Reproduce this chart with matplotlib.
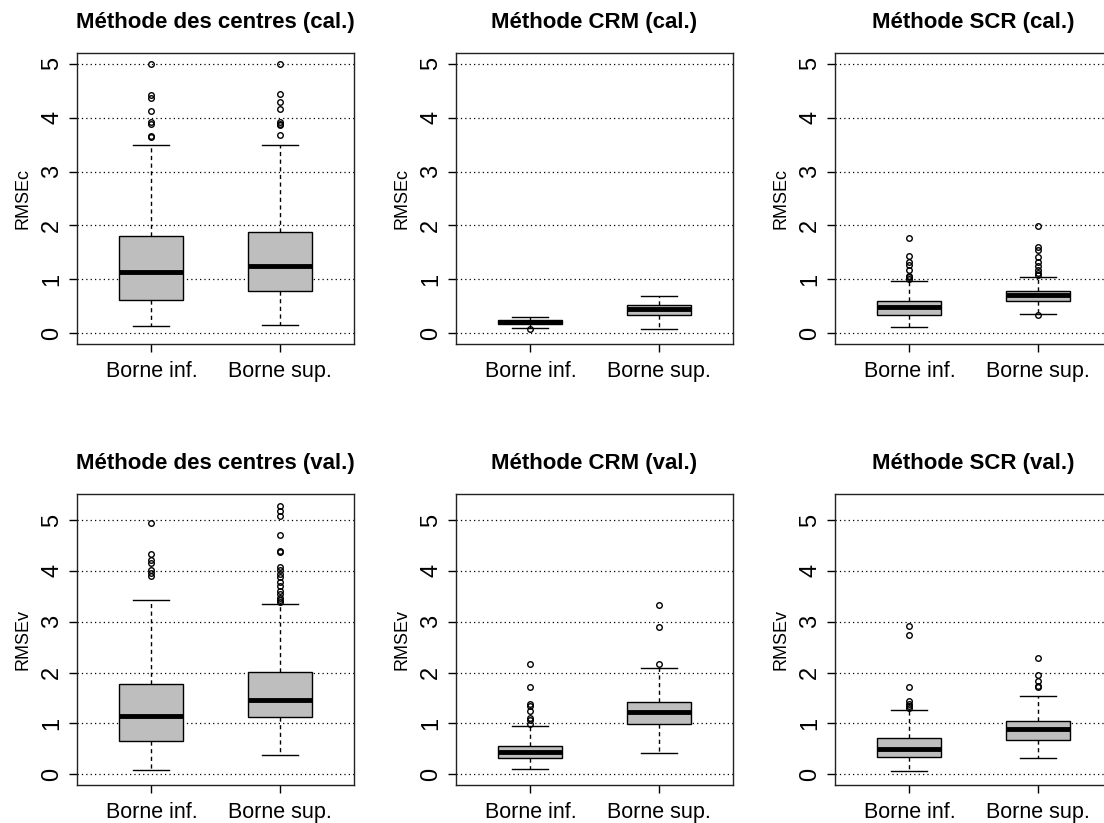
import matplotlib
matplotlib.use("Agg")
import matplotlib.pyplot as plt

plt.rcParams['font.family'] = ['Liberation Sans', 'DejaVu Sans']

categories = ["Borne inf.", "Borne sup."]

titles = ["Méthode des centres (cal.)", "Méthode CRM (cal.)", "Méthode SCR (cal.)",
          "Méthode des centres (val.)", "Méthode CRM (val.)", "Méthode SCR (val.)"]
ylabels = ["RMSEc", "RMSEc", "RMSEc", "RMSEv", "RMSEv", "RMSEv"]

# five-number summaries: (whisker low, Q1, median, Q3, whisker high)
centres_cal_inf = [0.14, 0.62, 1.14, 1.80, 3.49]
centres_cal_sup = [0.155, 0.78, 1.24, 1.87, 3.49]
crm_cal_inf = [0.09, 0.17, 0.20, 0.24, 0.31]
crm_cal_sup = [0.075, 0.33, 0.45, 0.53, 0.70]
scr_cal_inf = [0.11, 0.34, 0.48, 0.60, 0.96]
scr_cal_sup = [0.36, 0.60, 0.71, 0.79, 1.05]
centres_val_inf = [0.085, 0.65, 1.14, 1.77, 3.43]
centres_val_sup = [0.38, 1.12, 1.46, 2.01, 3.35]
crm_val_inf = [0.10, 0.31, 0.43, 0.56, 0.95]
crm_val_sup = [0.41, 0.99, 1.22, 1.42, 2.08]
scr_val_inf = [0.06, 0.34, 0.49, 0.72, 1.26]
scr_val_sup = [0.31, 0.67, 0.89, 1.05, 1.54]

# outliers
centres_cal_inf_out = [4.99, 4.42, 4.36, 4.13, 3.92, 3.88, 3.66, 3.65]
centres_cal_sup_out = [5.00, 4.43, 4.29, 4.16, 3.92, 3.89, 3.86, 3.67]
crm_cal_inf_out = [0.075]
crm_cal_sup_out = []
scr_cal_inf_out = [1.77, 1.44, 1.32, 1.26, 1.17, 1.07, 1.04, 1.01]
scr_cal_sup_out = [1.99, 1.60, 1.54, 1.41, 1.33, 1.24, 1.17, 1.12, 1.08, 0.33]
centres_val_inf_out = [4.95, 4.33, 4.22, 4.15, 4.02, 3.95, 3.90]
centres_val_sup_out = [5.28, 5.17, 5.08, 4.71, 4.40, 4.38, 4.07, 4.01, 3.94, 3.88,
                       3.78, 3.71, 3.61, 3.54, 3.47, 3.42, 3.39]
crm_val_inf_out = [2.16, 1.71, 1.38, 1.34, 1.25, 1.11, 1.07, 0.98]
crm_val_sup_out = [3.33, 2.90, 2.16]
scr_val_inf_out = [2.92, 2.73, 1.72, 1.44, 1.39, 1.35, 1.31]
scr_val_sup_out = [2.29, 1.95, 1.84, 1.74, 1.71]

panels = [
    (centres_cal_inf, centres_cal_inf_out, centres_cal_sup, centres_cal_sup_out),
    (crm_cal_inf, crm_cal_inf_out, crm_cal_sup, crm_cal_sup_out),
    (scr_cal_inf, scr_cal_inf_out, scr_cal_sup, scr_cal_sup_out),
    (centres_val_inf, centres_val_inf_out, centres_val_sup, centres_val_sup_out),
    (crm_val_inf, crm_val_inf_out, crm_val_sup, crm_val_sup_out),
    (scr_val_inf, scr_val_inf_out, scr_val_sup, scr_val_sup_out),
]
ymax_rows = [5.0, 5.3]
yticks = [0, 1, 2, 3, 4, 5]

W, H = 1104, 823
fig = plt.figure(figsize=(W / 100, H / 100), dpi=100)

lefts = [77, 456, 835]
tops = [53, 494]
aw, ah = 277, 291


def stats(s, out, lab):
    return dict(whislo=s[0], q1=s[1], med=s[2], q3=s[3], whishi=s[4],
                fliers=out, label=lab)


for i, (a, aout, b, bout) in enumerate(panels):
    r, c = divmod(i, 3)
    ax = fig.add_axes([lefts[c] / W, 1 - (tops[r] + ah) / H, aw / W, ah / H])
    ymax = ymax_rows[r]
    ext = 0.04 * ymax
    ax.set_ylim(-ext, ymax + ext)
    ax.set_xlim(0.42, 2.58)
    for yv in yticks:
        ax.axhline(yv, color='black', lw=0.9, ls=(0, (1, 2.5)), zorder=0)
    ax.bxp([stats(a, aout, categories[0]), stats(b, bout, categories[1])],
           positions=[1, 2], widths=0.5, patch_artist=True,
           boxprops=dict(facecolor='#BEBEBE', edgecolor='black', lw=1.0),
           medianprops=dict(color='black', lw=3.5, solid_capstyle='butt'),
           whiskerprops=dict(color='black', lw=1.0, ls=(0, (3, 2.5))),
           capprops=dict(color='black', lw=1.0),
           capwidths=0.28,
           flierprops=dict(marker='o', markersize=4, markerfacecolor='none',
                           markeredgecolor='black', markeredgewidth=1.0),
           zorder=3)
    ax.set_xticks([1, 2])
    ax.set_xticklabels(categories, fontsize=15.5)
    ax.set_yticks(yticks)
    ax.set_yticklabels([str(v) for v in yticks], fontsize=17, rotation=90,
                       va='center')
    ax.tick_params(axis='both', length=6, width=1.0, color='black', pad=6)
    ax.tick_params(axis='y', pad=4)
    for sp in ax.spines.values():
        sp.set_linewidth(1.0)
        sp.set_color('#222222')
    ax.set_ylabel(ylabels[i], fontsize=13, labelpad=7)
    ax.set_title(titles[i], fontsize=16, fontweight='bold', pad=18)

fig.savefig("out.png", dpi=100)
